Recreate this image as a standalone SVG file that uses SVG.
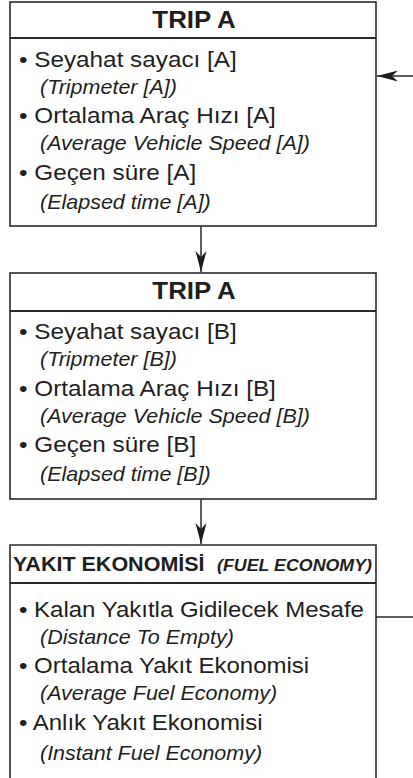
<svg xmlns="http://www.w3.org/2000/svg" width="413" height="778" viewBox="0 0 413 778">
<style>
  .box{fill:#fff;stroke:#2a2a2a;stroke-width:1.6}
  .sep{stroke:#2a2a2a;stroke-width:2.2}
  .t{font-family:"Liberation Sans",Arial,Helvetica,sans-serif;fill:#1e1e1e}
  .title{font-size:23.5px;font-weight:bold}
  .main{font-size:22.5px}
  .it{font-size:20px;font-style:italic}
  .yb{font-size:20.5px;font-weight:bold}
  .yi{font-size:16.5px;font-weight:bold;font-style:italic}
  .conn{stroke:#2a2a2a;stroke-width:1.5;fill:none}
</style>
<defs>
  <marker id="ah" viewBox="-22 -7 24 14" refX="0" refY="0" markerWidth="24" markerHeight="14" orient="auto" markerUnits="userSpaceOnUse">
    <path d="M0,0 L-21,-5.5 L-15,0 L-21,5.5 Z" fill="#1e1e1e"/>
  </marker>
</defs>

<g id="trip-a1">
  <rect class="box" x="10" y="2" width="366" height="224"/>
  <line class="sep" x1="10" y1="38" x2="376" y2="38"/>
  <text class="t title" text-anchor="middle" transform="translate(194,28) scale(1.1,1)">TRIP A</text>
  <text class="t main" transform="translate(19,67) scale(1.08,1)">• Seyahat sayacı [A]</text>
  <text class="t it" transform="translate(40,94) scale(1.075,1)">(Tripmeter [A])</text>
  <text class="t main" transform="translate(19,123) scale(1.08,1)">• Ortalama Araç Hızı [A]</text>
  <text class="t it" transform="translate(40,150) scale(1.075,1)">(Average Vehicle Speed [A])</text>
  <text class="t main" transform="translate(19,180) scale(1.08,1)">• Geçen süre [A]</text>
  <text class="t it" transform="translate(40,209) scale(1.075,1)">(Elapsed time [A])</text>
</g>

<g id="trip-a2">
  <rect class="box" x="10" y="273" width="366" height="226"/>
  <line class="sep" x1="10" y1="311" x2="376" y2="311"/>
  <text class="t title" text-anchor="middle" transform="translate(194,299) scale(1.1,1)">TRIP A</text>
  <text class="t main" transform="translate(19,339) scale(1.08,1)">• Seyahat sayacı [B]</text>
  <text class="t it" transform="translate(40,366) scale(1.075,1)">(Tripmeter [B])</text>
  <text class="t main" transform="translate(19,396) scale(1.08,1)">• Ortalama Araç Hızı [B]</text>
  <text class="t it" transform="translate(40,423) scale(1.075,1)">(Average Vehicle Speed [B])</text>
  <text class="t main" transform="translate(19,452) scale(1.08,1)">• Geçen süre [B]</text>
  <text class="t it" transform="translate(40,481) scale(1.075,1)">(Elapsed time [B])</text>
</g>

<g id="fuel-economy">
  <path class="box" d="M10,790 L10,545 L376,545 L376,790"/>
  <line class="sep" x1="10" y1="583" x2="376" y2="583"/>
  <text class="t yb" transform="translate(13,571) scale(1.05,1)">YAKIT EKONOMİSİ</text>
  <text class="t yi" text-anchor="end" transform="translate(372,571) scale(1.08,1)">(FUEL ECONOMY)</text>
  <text class="t main" transform="translate(19,617) scale(1.067,1)">• Kalan Yakıtla Gidilecek Mesafe</text>
  <text class="t it" transform="translate(40,644) scale(1.075,1)">(Distance To Empty)</text>
  <text class="t main" transform="translate(19,673) scale(1.067,1)">• Ortalama Yakıt Ekonomisi</text>
  <text class="t it" transform="translate(40,700) scale(1.075,1)">(Average Fuel Economy)</text>
  <text class="t main" transform="translate(19,730) scale(1.067,1)">• Anlık Yakıt Ekonomisi</text>
  <text class="t it" transform="translate(40,760) scale(1.075,1)">(Instant Fuel Economy)</text>
</g>

<g id="connectors">
  <line class="conn" x1="413" y1="76" x2="377" y2="76" marker-end="url(#ah)"/>
  <line class="conn" x1="201" y1="226" x2="201" y2="272" marker-end="url(#ah)"/>
  <line class="conn" x1="201" y1="499" x2="201" y2="544" marker-end="url(#ah)"/>
  <line class="conn" x1="376" y1="617" x2="413" y2="617"/>
</g>
</svg>
